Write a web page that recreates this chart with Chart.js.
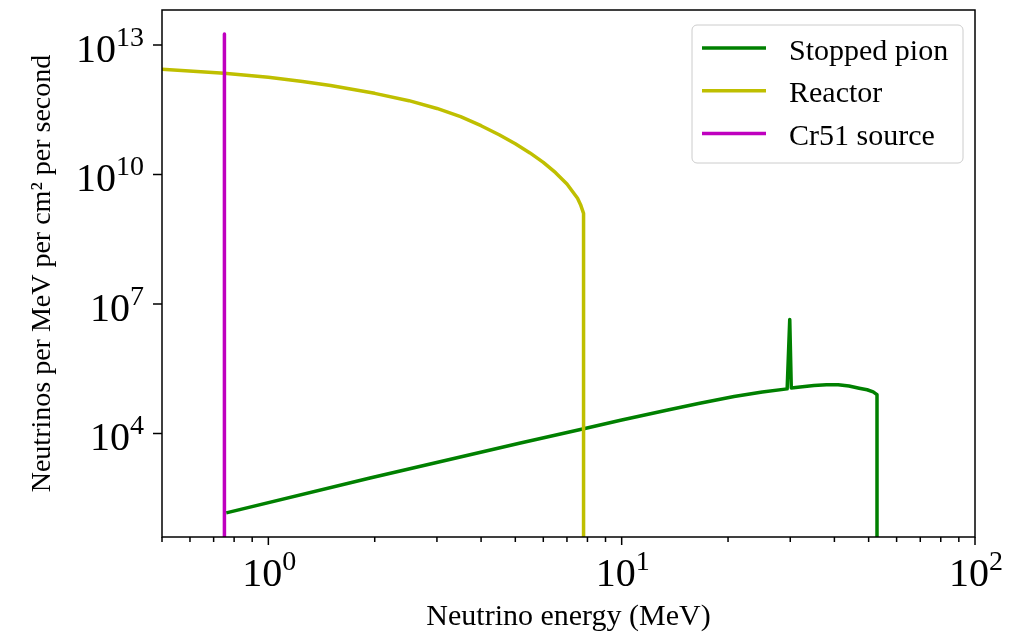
<!DOCTYPE html>
<html>
<head>
<meta charset="utf-8">
<script src="https://cdn.jsdelivr.net/npm/chart.js@4.4.0/dist/chart.umd.min.js"></script>
<style>
    html, body { margin: 0; padding: 0; background: #ffffff; }
    #wrap { width: 1024px; height: 635px; }
</style>
</head>
<body>
<div id="wrap"><canvas id="chart-0" width="1024" height="635"></canvas></div>
<script>
/* energies in MeV, flux in neutrinos per MeV per cm^2 per second */
var seriesNames = ["Stopped pion", "Reactor", "Cr51 source"];
var seriesColors = ["#008000", "#bfbf00", "#bf00bf"];

var pionEnergy = [0.76, 1.94, 5.17, 7.81, 10.0, 13.4, 16.5, 20.8, 25.0, 29.4, 29.9, 30.2, 32.0, 35.0, 38.0, 41.0, 44.0, 47.0, 49.5, 51.5, 52.8, 52.8];
var pionFlux = [145, 933, 6030, 12900, 20500, 34700, 49300, 71800, 91200, 108000, 4370000, 113000, 120000, 129000, 135000, 135000, 126000, 112000, 103000, 92000, 79400, 0.01];

var reactorEnergy = [0.5, 0.75, 1.0, 1.25, 1.5, 2.0, 2.5, 3.0, 3.5, 4.0, 4.5, 5.0, 5.5, 6.0, 6.5, 7.0, 7.5, 7.65, 7.8, 7.8];
var reactorFlux = [2.75e12, 2.21e12, 1.78e12, 1.43e12, 1.15e12, 7.59e11, 5.13e11, 3.39e11, 2.19e11, 1.35e11, 8.32e10, 5.13e10, 3.16e10, 1.91e10, 1.10e10, 6.03e9, 2.82e9, 2.0e9, 1.26e9, 0.01];

var crEnergy = [0.751, 0.751];
var crFlux = [1.8e13, 0.01];

var xMin = 0.5, xMax = 100;
var yMin = 40, yMax = 6.47e13;
var xMajorTicks = [0, 1, 2];       // powers of ten
var yMajorTicks = [4, 7, 10, 13];  // powers of ten

var serif = '"Liberation Serif", "Times New Roman", serif';

function toPoints(xs, ys) {
    var pts = [];
    for (var i = 0; i < xs.length; i++) {
        pts.push({x: xs[i], y: ys[i]});
    }
    return pts;
}

function lineSet(i, xs, ys, order) {
    return {
        label: seriesNames[i],
        data: toPoints(xs, ys),
        borderColor: seriesColors[i],
        backgroundColor: seriesColors[i],
        borderWidth: 3.5,
        pointRadius: 0,
        tension: 0,
        fill: false,
        borderJoinStyle: "round",
        order: order
    };
}

/* draws 10 with a raised exponent */
function drawPow(ctx, exp, x, base, align) {
    ctx.font = "40px " + serif;
    var w1 = ctx.measureText("10").width;
    ctx.font = "28px " + serif;
    var w2 = ctx.measureText(String(exp)).width;
    var start = align === "right" ? x - w1 - w2 : x - (w1 + w2) / 2;
    ctx.textAlign = "left";
    ctx.textBaseline = "alphabetic";
    ctx.fillStyle = "#000000";
    ctx.font = "40px " + serif;
    ctx.fillText("10", start, base);
    ctx.font = "28px " + serif;
    ctx.fillText(String(exp), start + w1, base - 16);
}

var axesPlugin = {
    id: "axesPlugin",
    afterDatasetsDraw: function (chart) {
        var ctx = chart.ctx;
        var a = chart.chartArea;
        var xs = chart.scales.x;
        var ys = chart.scales.y;
        ctx.save();
        ctx.strokeStyle = "#000000";
        ctx.lineWidth = 1.5;
        ctx.strokeRect(a.left, a.top, a.right - a.left, a.bottom - a.top);

        // x ticks, major and minor
        ctx.beginPath();
        for (var p = Math.floor(Math.log10(xMin)); p < Math.log10(xMax) + 1; p++) {
            for (var m = 1; m < 10; m++) {
                var v = m * Math.pow(10, p);
                if (v < xMin - 1e-9 || v > xMax + 1e-9) continue;
                var px = xs.getPixelForValue(v);
                ctx.moveTo(px, a.bottom);
                ctx.lineTo(px, a.bottom + (m === 1 ? 8 : 5));
            }
        }
        // y ticks, major only
        yMajorTicks.forEach(function (e) {
            var py = ys.getPixelForValue(Math.pow(10, e));
            ctx.moveTo(a.left, py);
            ctx.lineTo(a.left - 9, py);
        });
        ctx.stroke();

        xMajorTicks.forEach(function (e) {
            drawPow(ctx, e, xs.getPixelForValue(Math.pow(10, e)) + 1, a.bottom + 49, "center");
        });
        yMajorTicks.forEach(function (e) {
            drawPow(ctx, e, a.left - 18, ys.getPixelForValue(Math.pow(10, e)) + 17, "right");
        });
        ctx.restore();
    },
    afterDraw: function (chart) {
        // legend box in upper right of the axes
        var ctx = chart.ctx;
        var a = chart.chartArea;
        var bw = 271, bh = 138;
        var bx = a.right - 12 - bw, by = a.top + 15;
        ctx.save();
        ctx.beginPath();
        ctx.roundRect(bx, by, bw, bh, 5);
        ctx.fillStyle = "rgba(255,255,255,0.8)";
        ctx.fill();
        ctx.strokeStyle = "#cccccc";
        ctx.lineWidth = 1;
        ctx.stroke();
        ctx.font = "30px " + serif;
        ctx.textAlign = "left";
        ctx.textBaseline = "alphabetic";
        for (var i = 0; i < seriesNames.length; i++) {
            var ly = by + 23 + i * 42.8;
            ctx.beginPath();
            ctx.moveTo(bx + 10, ly);
            ctx.lineTo(bx + 74, ly);
            ctx.strokeStyle = seriesColors[i];
            ctx.lineWidth = 3.5;
            ctx.stroke();
            ctx.fillStyle = "#000000";
            ctx.fillText(seriesNames[i], bx + 97, ly + 11.5);
        }
        ctx.restore();
    }
};

var ctx = document.getElementById("chart-0");
var myChart = new Chart(ctx, {
    type: "line",
    data: {
        datasets: [
            lineSet(0, pionEnergy, pionFlux, 2),
            lineSet(1, reactorEnergy, reactorFlux, 1),
            lineSet(2, crEnergy, crFlux, 0)
        ]
    },
    options: {
        responsive: false,
        animation: false,
        layout: { padding: { top: 10, right: 49, left: 0, bottom: 0 } },
        plugins: {
            legend: { display: false },
            tooltip: { enabled: false }
        },
        scales: {
            x: {
                type: "logarithmic",
                min: xMin,
                max: xMax,
                grid: { display: false },
                border: { display: false },
                ticks: { display: false },
                title: {
                    display: true,
                    text: "Neutrino energy (MeV)",
                    color: "#000000",
                    font: { family: serif, size: 30 },
                    padding: { top: 0, bottom: 0 }
                },
                afterFit: function (scale) { scale.height = 98; }
            },
            y: {
                type: "logarithmic",
                min: yMin,
                max: yMax,
                grid: { display: false },
                border: { display: false },
                ticks: { display: false },
                title: {
                    display: true,
                    text: "Neutrinos per MeV per cm\u00b2 per second",
                    color: "#000000",
                    font: { family: serif, size: 28 },
                    padding: { top: 26, bottom: 0 }
                },
                afterFit: function (scale) { scale.width = 162; }
            }
        }
    },
    plugins: [axesPlugin]
});
</script>
</body>
</html>
